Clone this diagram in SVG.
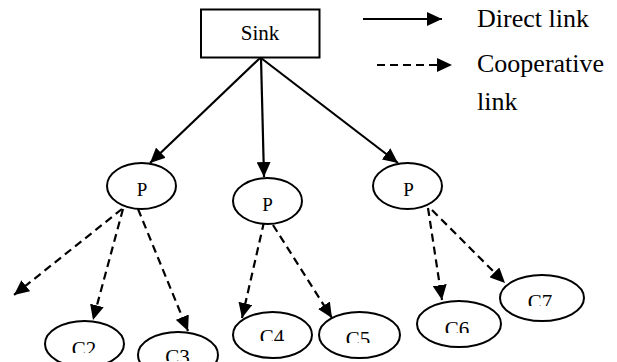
<svg xmlns="http://www.w3.org/2000/svg" width="617" height="362" viewBox="0 0 617 362">
  <style>
    .shape { fill: #fff; stroke: #000; stroke-width: 2; }
    .lbl { font-family: "Liberation Serif", "Times New Roman", serif; fill: #000; text-anchor: middle; }
    .legend { font-family: "Liberation Serif", "Times New Roman", serif; fill: #000; font-size: 26px; }
    .direct { stroke: #000; stroke-width: 2.2; fill: none; marker-end: url(#head); }
    .coop { stroke: #000; stroke-width: 2.2; fill: none; stroke-dasharray: 8 5; marker-end: url(#head); }
  </style>
  <defs>
    <marker id="head" markerUnits="userSpaceOnUse" markerWidth="16" markerHeight="14" refX="15" refY="7" orient="auto">
      <path d="M0,0 L15,7 L0,14 Z" fill="#000"/>
    </marker>
    <clipPath id="clipC2"><rect x="50" y="330" width="70" height="23"/></clipPath>
    <clipPath id="clipC3"><rect x="140" y="340" width="75" height="21"/></clipPath>
    <clipPath id="clipC4"><rect x="235" y="320" width="75" height="21"/></clipPath>
    <clipPath id="clipC5"><rect x="320" y="320" width="75" height="23"/></clipPath>
    <clipPath id="clipC6"><rect x="420" y="310" width="75" height="23"/></clipPath>
    <clipPath id="clipC7"><rect x="505" y="283" width="75" height="23"/></clipPath>
  </defs>

  <rect width="617" height="362" fill="#fff"/>

  <!-- links -->
  <g id="connectors">
    <line class="direct" x1="260" y1="58" x2="150" y2="163"/>
    <line class="direct" x1="261" y1="58" x2="264" y2="177"/>
    <line class="direct" x1="261" y1="58" x2="398" y2="163"/>
    <line class="coop" x1="122" y1="209" x2="14" y2="295"/>
    <line class="coop" x1="123" y1="209" x2="93" y2="320"/>
    <line class="coop" x1="138" y1="209" x2="188" y2="331"/>
    <line class="coop" x1="264" y1="222" x2="242" y2="318"/>
    <line class="coop" x1="266" y1="214" x2="332" y2="318"/>
    <line class="coop" x1="428" y1="208" x2="442" y2="300"/>
    <line class="coop" x1="432" y1="210" x2="505" y2="283"/>
  </g>

  <!-- sink -->
  <g id="sink">
    <rect class="shape" x="201" y="9.5" width="118.5" height="48"/>
    <text class="lbl" x="260" y="39.5" font-size="21">Sink</text>
  </g>

  <!-- parent nodes -->
  <g id="p1">
    <ellipse class="shape" cx="141.5" cy="186" rx="34.5" ry="23"/>
    <text class="lbl" x="142" y="196" font-size="19">P</text>
  </g>
  <g id="p2">
    <ellipse class="shape" cx="267.5" cy="201" rx="34.5" ry="23"/>
    <text class="lbl" x="267.5" y="211" font-size="19">P</text>
  </g>
  <g id="p3">
    <ellipse class="shape" cx="407.5" cy="186" rx="34.5" ry="23"/>
    <text class="lbl" x="408.5" y="196" font-size="19">P</text>
  </g>

  <!-- child nodes -->
  <g id="c2">
    <ellipse class="shape" cx="84.5" cy="344" rx="39.5" ry="23"/>
    <text class="lbl" x="84" y="356" font-size="21" clip-path="url(#clipC2)">C2</text>
  </g>
  <g id="c3">
    <ellipse class="shape" cx="178" cy="355" rx="40" ry="23"/>
    <text class="lbl" x="177.5" y="364" font-size="21" clip-path="url(#clipC3)">C3</text>
  </g>
  <g id="c4">
    <ellipse class="shape" cx="272.5" cy="335" rx="39.5" ry="23"/>
    <text class="lbl" x="272" y="344" font-size="21" clip-path="url(#clipC4)">C4</text>
  </g>
  <g id="c5">
    <ellipse class="shape" cx="359.5" cy="335" rx="40.5" ry="23"/>
    <text class="lbl" x="358" y="346" font-size="21" clip-path="url(#clipC5)">C5</text>
  </g>
  <g id="c6">
    <ellipse class="shape" cx="459" cy="324" rx="42" ry="23"/>
    <text class="lbl" x="457" y="336" font-size="21" clip-path="url(#clipC6)">C6</text>
  </g>
  <g id="c7">
    <ellipse class="shape" cx="542" cy="298" rx="42" ry="23"/>
    <text class="lbl" x="540" y="309" font-size="21" clip-path="url(#clipC7)">C7</text>
  </g>

  <!-- legend -->
  <g id="legend">
    <line class="direct" x1="363" y1="19" x2="442" y2="19"/>
    <text class="legend" x="477" y="27">Direct link</text>
    <line class="coop" x1="377" y1="65" x2="452" y2="65"/>
    <text class="legend" x="477" y="72">Cooperative</text>
    <text class="legend" x="477" y="110">link</text>
  </g>
</svg>
